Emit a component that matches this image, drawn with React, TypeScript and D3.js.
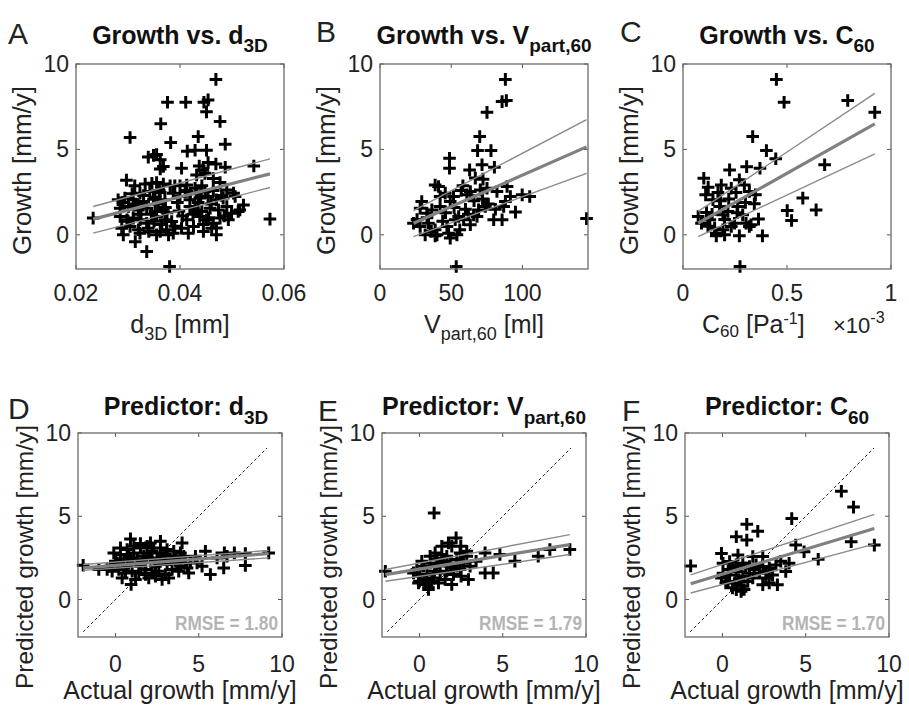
import React from "react";
import * as d3 from "d3";

type P = [number, number];

// ---------- DATA ----------
// Panel A: growth [mm/y] vs d3D [mm]
const ptsA: P[] = [
  [0.0469, 9.1], [0.0376, 7.76], [0.0411, 7.76], [0.0446, 7.76], [0.0454, 7.9], [0.0451, 7.2], [0.0477, 6.63],
  [0.0363, 6.5], [0.0304, 5.7], [0.0435, 5.75], [0.0382, 5.4], [0.0487, 5.3], [0.0414, 4.9], [0.0429, 4.95],
  [0.0451, 4.95], [0.0355, 4.7], [0.0339, 4.55], [0.0362, 4.4], [0.0349, 4.65], [0.0368, 4.0], [0.0362, 3.85],
  [0.0403, 3.9], [0.0437, 4.03], [0.0444, 3.8], [0.0454, 4.23], [0.0469, 4.15], [0.0487, 3.96], [0.0542, 4.03],
  [0.0432, 3.5], [0.0448, 3.6],
  [0.0297, 3.2], [0.0313, 2.87], [0.0333, 2.98], [0.0346, 3.02], [0.0355, 3.06], [0.0368, 2.98], [0.0381, 2.87],
  [0.039, 2.87], [0.04, 2.87], [0.0413, 2.92], [0.0429, 2.73], [0.0442, 2.87], [0.0464, 3.3], [0.0477, 3.06],
  [0.0323, 2.44], [0.0342, 2.54], [0.0362, 2.48], [0.0387, 2.44], [0.0413, 2.54], [0.0432, 2.44], [0.0448, 2.54],
  [0.0464, 2.59], [0.049, 2.63], [0.0503, 2.44],
  [0.0281, 2.05], [0.0294, 2.15], [0.031, 2.05], [0.033, 1.95], [0.0349, 2.09], [0.0371, 2.05], [0.04, 2.24],
  [0.0419, 2.05], [0.0438, 2.15], [0.0454, 2.24], [0.047, 2.05], [0.0483, 2.15], [0.0506, 2.24], [0.0522, 1.75],
  [0.0515, 1.46],
  [0.0285, 1.56], [0.0301, 1.66], [0.032, 1.46], [0.0336, 1.56], [0.0352, 1.37], [0.0368, 1.46], [0.0419, 1.66],
  [0.0429, 1.46], [0.0442, 1.37], [0.0458, 1.56], [0.0474, 1.46], [0.049, 1.66], [0.0499, 1.27], [0.0512, 1.37],
  [0.0233, 0.98], [0.0573, 0.92], [0.0285, 1.07], [0.0298, 0.88], [0.031, 0.98], [0.0323, 0.88], [0.0336, 0.68],
  [0.0355, 1.07], [0.0371, 0.88], [0.0384, 0.78], [0.0413, 0.88], [0.0438, 1.07], [0.0451, 0.88], [0.0464, 0.68],
  [0.0477, 0.98], [0.0493, 0.88],
  [0.0288, 0.39], [0.0304, 0.49], [0.032, 0.3], [0.0339, 0.39], [0.0362, 0.2], [0.0374, 0.3], [0.0387, 0.1],
  [0.0403, 0.39], [0.0426, 0.49], [0.0445, 0.2], [0.0461, 0.39], [0.047, 0.0], [0.0291, 0.0], [0.0323, 0.1],
  [0.0355, 0.0], [0.0378, 0.0],
  [0.0416, 0.1], [0.0314, -0.4], [0.0336, -0.98], [0.038, -1.85],
  [0.0315, 1.8], [0.033, 2.3], [0.0345, 1.2], [0.0358, 1.8], [0.0365, 0.6], [0.0375, 1.3], [0.0395, 1.9],
  [0.0405, 1.1], [0.042, 2.4], [0.0435, 1.9], [0.0445, 0.6], [0.0455, 1.0], [0.047, 0.4], [0.048, 2.3],
  [0.03, 0.8], [0.0325, 1.2], [0.034, 0.2], [0.035, 0.8], [0.036, 2.6], [0.039, 0.5], [0.041, 2.6],
  [0.0425, 1.2], [0.044, 2.2], [0.046, 1.8], [0.0485, 1.1], [0.029, 1.9], [0.0308, 2.4], [0.0352, 2.2],
  [0.0372, 1.6], [0.0398, 1.4],
];

// Panel B: growth vs V_part,60 [ml]
const ptsB: P[] = [
  [88.0, 9.1], [85.7, 7.8], [88.7, 7.86], [75.1, 7.17], [70.0, 5.75], [68.5, 4.93], [77.9, 4.93], [48.8, 4.48],
  [48.8, 3.9], [71.6, 4.1], [80.3, 3.96], [62.9, 3.8], [66.9, 3.32], [72.3, 3.26], [38.7, 2.92], [41.1, 2.83],
  [58.2, 2.87], [63.4, 2.54], [70.4, 2.63], [75.1, 2.73], [42.2, 2.24], [45.8, 2.44], [51.6, 2.24], [61.0, 2.34],
  [29.3, 1.95], [82.1, 2.54], [89.2, 2.83], [88.0, 1.95], [91.5, 2.24], [86.8, 1.66], [99.8, 2.34], [105.1, 2.24],
  [95.1, 1.33], [73.9, 1.66], [69.2, 1.46], [65.7, 1.17], [28.2, 1.56], [32.9, 1.27], [36.4, 1.46], [42.2, 1.66],
  [49.3, 1.95], [55.2, 1.07], [58.7, 0.88], [52.8, 0.88], [68.1, 1.07], [63.4, 0.59], [79.8, 0.88], [85.7, 0.88],
  [23.5, 0.68], [28.2, 0.49], [34.0, 0.68], [38.7, 0.3], [31.7, 0.0], [38.7, -0.06], [47.0, 0.49], [48.1, 0.1],
  [54.0, 0.0], [49.3, -0.19], [53.5, -1.85], [145, 0.95],
  [33, 1.0], [36, 0.2], [44, 0.8], [46, 1.3], [52, 1.6], [57, 2.6], [60, 1.5], [66, 2.0], [72, 2.1], [76, 1.8],
  [81, 1.5], [26, 0.9], [40, 0.0], [56, 0.3], [62, 1.2],
];

// Panel C: growth vs C60 [1e-3 Pa^-1]
const ptsC: P[] = [
  [0.449, 9.1], [0.486, 7.76], [0.792, 7.86], [0.922, 7.17], [0.335, 5.75], [0.401, 4.93], [0.446, 4.45],
  [0.681, 4.1], [0.224, 3.8], [0.306, 3.99], [0.37, 3.9], [0.1, 3.31], [0.121, 2.79], [0.109, 2.34], [0.184, 2.92],
  [0.232, 2.73], [0.271, 3.22], [0.295, 2.92], [0.255, 2.48], [0.319, 2.54], [0.348, 2.34], [0.343, 1.82],
  [0.363, 0.92], [0.382, -0.06], [0.576, 2.15], [0.64, 1.46], [0.501, 1.42], [0.522, 0.84], [0.073, 1.07],
  [0.113, 1.31], [0.129, 0.88], [0.089, 0.68], [0.176, 1.66], [0.192, 1.17], [0.216, 1.37], [0.263, 1.66],
  [0.287, 1.17], [0.248, 0.68], [0.303, 0.68], [0.319, 0.49], [0.152, 0.39], [0.192, 0.3], [0.16, -0.06],
  [0.2, 0.0], [0.271, -0.06], [0.232, 0.49], [0.327, 0.59], [0.274, -1.85], [0.144, 2.05], [0.168, 2.48],
  [0.14, 1.2], [0.18, 2.0], [0.22, 2.1], [0.26, 1.3], [0.2, 0.9], [0.12, 0.5], [0.3, 1.9], [0.16, 0.1],
];

// Panel D: predicted vs actual growth, predictor d3D
const ptsD: P[] = [
  [-1.94, 2.06], [0.9, 3.64], [0.94, 0.9], [4.0, 3.4], [5.4, 2.9], [4.8, 2.6], [4.5, 2.2], [5.7, 1.5], [6.5, 1.9],
  [6.54, 2.8], [7.14, 2.8], [7.8, 2.76], [7.8, 2.04], [9.2, 2.8], [-1.0, 1.8], [-0.5, 1.8],
  [-0.1, 2.8], [0.3, 3.1], [0.7, 3.0], [1.1, 3.2], [1.5, 3.1], [1.9, 3.2], [2.3, 3.1], [2.7, 3.1], [3.1, 3.0],
  [3.5, 2.9], [3.9, 2.8], [4.1, 2.6],
  [0.1, 2.2], [0.5, 2.4], [0.9, 2.5], [1.3, 2.4], [1.7, 2.6], [2.1, 2.5], [2.5, 2.4], [2.9, 2.6], [3.3, 2.4], [3.7, 2.2],
  [-0.2, 1.7], [0.2, 1.8], [0.6, 1.6], [1.0, 1.7], [1.4, 1.6], [1.8, 1.8], [2.2, 1.6], [2.6, 1.7], [3.0, 1.5],
  [3.4, 1.8], [3.8, 1.7], [4.3, 1.9],
  [0.4, 1.3], [1.2, 1.2], [2.0, 1.3], [2.8, 1.2], [3.2, 1.3], [1.5, 2.0], [2.4, 2.0], [0.7, 2.0], [3.1, 2.1],
  [3.9, 2.0], [1.9, 2.8], [2.7, 2.8], [1.1, 2.8], [0.3, 2.7], [3.5, 2.6], [2.7, 3.5], [2.1, 3.4], [1.5, 3.36],
  [4.9, 2.2], [5.2, 2.0], [6.1, 2.5], [6.7, 2.6],
  [0.0, 2.3], [0.5, 1.9], [1.0, 2.2], [1.6, 2.3], [2.2, 2.9], [2.6, 2.2], [3.0, 2.7], [3.6, 2.4], [4.2, 2.2],
  [0.8, 2.6], [1.8, 1.5], [2.4, 1.4], [-0.3, 2.0], [4.4, 1.6],
];

// Panel E: predicted vs actual growth, predictor V_part,60
const ptsE: P[] = [
  [-2.05, 1.7], [0.88, 5.2], [2.2, 3.7], [1.74, 3.4], [1.34, 3.2], [1.94, 3.2], [2.48, 3.2], [2.84, 2.9],
  [2.44, 2.8], [0.94, 2.8], [1.34, 2.7], [3.94, 2.8], [4.83, 2.7], [5.73, 2.3], [7.13, 2.6], [7.83, 3.0],
  [9.03, 3.0], [3.94, 1.6], [4.43, 1.6], [2.94, 1.2], [1.94, 0.9], [0.54, 0.7],
  [-0.16, 1.8], [0.24, 2.0], [0.64, 2.2], [1.04, 2.1], [1.44, 2.3], [1.84, 2.2], [2.24, 2.4], [2.64, 2.2],
  [3.04, 2.0], [0.04, 1.4], [0.44, 1.5], [0.84, 1.3], [1.24, 1.6], [1.64, 1.7], [2.04, 1.5], [2.44, 1.8],
  [-0.06, 1.0], [0.34, 0.9], [0.74, 1.1], [1.14, 1.0], [1.54, 1.2], [0.54, 0.6], [1.04, 2.4], [0.64, 2.6],
  [1.64, 2.6], [0.14, 2.3], [-0.36, 1.6], [2.84, 2.6], [2.24, 2.0],
  [0.3, 1.2], [0.9, 1.7], [1.9, 1.9], [2.5, 1.4], [0.0, 1.1], [1.2, 2.2], [3.4, 2.3],
];

// Panel F: predicted vs actual growth, predictor C60
const ptsF: P[] = [
  [-1.91, 2.02], [7.14, 6.5], [7.87, 5.55], [4.16, 4.86], [1.46, 4.52], [2.12, 4.1], [0.83, 3.77], [1.46, 3.57],
  [7.73, 3.47], [9.12, 3.27], [4.4, 3.27], [4.9, 2.87], [5.75, 2.42], [4.0, 2.18], [-0.06, 2.77], [0.93, 2.67],
  [1.82, 2.58], [2.42, 2.58], [3.8, 1.68], [3.3, 0.89], [2.42, 0.89], [2.81, 0.99],
  [0.03, 2.18], [0.43, 2.28], [0.83, 2.08], [1.22, 2.18], [1.62, 1.98], [2.02, 2.08], [2.42, 1.98], [2.81, 1.88],
  [3.21, 2.08], [0.03, 1.58], [0.43, 1.48], [0.83, 1.68], [1.22, 1.38], [1.62, 1.58], [2.22, 1.58], [2.61, 1.68],
  [3.01, 1.48], [0.33, 1.09], [0.73, 0.99], [1.12, 0.79], [1.52, 1.09], [0.83, 0.59], [1.12, 0.49], [1.82, 1.29],
  [2.61, 1.29], [-0.06, 1.29], [0.63, 1.98],
  [0.5, 1.8], [1.0, 1.2], [1.4, 1.9], [0.2, 1.0], [0.6, 0.7], [1.9, 1.8], [1.3, 0.6], [3.5, 2.3],
];

// Fitted lines (x endpoints, then centre / upper / lower y at those endpoints)
const fitAx = [0.0233, 0.0573], fitAmid = [0.92, 3.57], fitAhi = [1.66, 4.45], fitAlo = [0.1, 2.77];
const fitBx = [23.5, 145], fitBmid = [0.68, 5.15], fitBhi = [1.42, 6.75], fitBlo = [-0.1, 3.6];
const fitCx = [0.073, 0.922], fitCmid = [0.68, 6.49], fitChi = [1.37, 8.28], fitClo = [-0.1, 4.74];
const fitDx = [-1.94, 9.2], fitDmid = [1.9, 2.76], fitDhi = [2.1, 2.95], fitDlo = [1.75, 2.5];
const fitEx = [-2.05, 9.03], fitEmid = [1.5, 3.3], fitEhi = [1.8, 3.9], fitElo = [1.1, 2.7];
const fitFx = [-1.91, 9.12], fitFmid = [0.95, 4.26], fitFhi = [1.48, 5.11], fitFlo = [0.39, 3.33];
const identityX = [-1.94, 9.1];

const rmseLabels = ["RMSE = 1.80", "RMSE = 1.79", "RMSE = 1.70"];
const xTicksA = [0.02, 0.04, 0.06], xTickLabA = ["0.02", "0.04", "0.06"];
const xTicksB = [0, 50, 100], xTickLabB = ["0", "50", "100"];
const xTicksC = [0, 0.5, 1], xTickLabC = ["0", "0.5", "1"];
const xTicksRow2 = [0, 5, 10], xTickLabRow2 = ["0", "5", "10"];
const yTicks = [0, 5, 10], yTickLab = ["0", "5", "10"];

// ---------- LAYOUT ----------
const FONT = "'Liberation Sans', Arial, Helvetica, sans-serif";

type Box = { x0: number; x1: number; y0: number; y1: number };
type Fit = { x: number[]; mid: number[]; hi: number[]; lo: number[] };
type Cfg = {
  box: Box;
  xDomain: [number, number];
  yDomain: [number, number];
  xTicks: number[];
  xTickLab: string[];
  xTickY: number;
  pts: P[];
  fit: Fit;
  identity: boolean;
  rmse?: string;
};

const row1Y = { y0: 64, y1: 269 };
const row2Y = { y0: 433, y1: 637 };

const cfgs: Cfg[] = [
  { box: { x0: 76, x1: 284, ...row1Y }, xDomain: [0.02, 0.06], yDomain: [-2, 10], xTicks: xTicksA, xTickLab: xTickLabA, xTickY: 301, pts: ptsA, fit: { x: fitAx, mid: fitAmid, hi: fitAhi, lo: fitAlo }, identity: false },
  { box: { x0: 380, x1: 588, ...row1Y }, xDomain: [0, 146], yDomain: [-2, 10], xTicks: xTicksB, xTickLab: xTickLabB, xTickY: 301, pts: ptsB, fit: { x: fitBx, mid: fitBmid, hi: fitBhi, lo: fitBlo }, identity: false },
  { box: { x0: 683, x1: 891, ...row1Y }, xDomain: [0, 1], yDomain: [-2, 10], xTicks: xTicksC, xTickLab: xTickLabC, xTickY: 301, pts: ptsC, fit: { x: fitCx, mid: fitCmid, hi: fitChi, lo: fitClo }, identity: false },
  { box: { x0: 78, x1: 282, ...row2Y }, xDomain: [-2.25, 10], yDomain: [-2.25, 10], xTicks: xTicksRow2, xTickLab: xTickLabRow2, xTickY: 672, pts: ptsD, fit: { x: fitDx, mid: fitDmid, hi: fitDhi, lo: fitDlo }, identity: true, rmse: rmseLabels[0] },
  { box: { x0: 382, x1: 586, ...row2Y }, xDomain: [-2.25, 10], yDomain: [-2.25, 10], xTicks: xTicksRow2, xTickLab: xTickLabRow2, xTickY: 672, pts: ptsE, fit: { x: fitEx, mid: fitEmid, hi: fitEhi, lo: fitElo }, identity: true, rmse: rmseLabels[1] },
  { box: { x0: 685, x1: 889, ...row2Y }, xDomain: [-2.25, 10], yDomain: [-2.25, 10], xTicks: xTicksRow2, xTickLab: xTickLabRow2, xTickY: 672, pts: ptsF, fit: { x: fitFx, mid: fitFmid, hi: fitFhi, lo: fitFlo }, identity: true, rmse: rmseLabels[2] },
];

function Panel({ c }: { c: Cfg }) {
  const b = c.box;
  const xs = d3.scaleLinear().domain(c.xDomain).range([b.x0, b.x1]);
  const ys = d3.scaleLinear().domain(c.yDomain).range([b.y1, b.y0]);
  const line = d3.line<P>().x((d) => xs(d[0])).y((d) => ys(d[1]));
  const seg = (ysArr: number[]) => line(c.fit.x.map((x, i) => [x, ysArr[i]] as P)) || "";
  const crossPath = c.pts
    .map((p) => {
      const x = xs(p[0]);
      const y = ys(p[1]);
      return `M${x - 6.3},${y}H${x + 6.3}M${x},${y - 6.3}V${y + 6.3}`;
    })
    .join("");
  const tl = 4;
  return (
    <g>
      <rect x={b.x0} y={b.y0} width={b.x1 - b.x0} height={b.y1 - b.y0} fill="#fff" stroke="none" />
      {c.identity && (
        <path
          d={line(identityX.map((v) => [v, v] as P)) || ""}
          stroke="#222"
          strokeWidth={1}
          strokeDasharray="3,2.5"
          fill="none"
        />
      )}
      <path d={crossPath} stroke="#000" strokeWidth={3} fill="none" />
      <path d={seg(c.fit.hi)} stroke="#8a8a8a" strokeWidth={1.4} fill="none" />
      <path d={seg(c.fit.lo)} stroke="#8a8a8a" strokeWidth={1.4} fill="none" />
      <path d={seg(c.fit.mid)} stroke="#808080" strokeWidth={3.2} fill="none" />
      {c.xTicks.map((t, i) => (
        <g key={"xt" + i}>
          <line x1={xs(t)} x2={xs(t)} y1={b.y1} y2={b.y1 - tl} stroke="#555" />
          <line x1={xs(t)} x2={xs(t)} y1={b.y0} y2={b.y0 + tl} stroke="#555" />
          <text x={xs(t)} y={c.xTickY} textAnchor="middle" fontSize={23} fontFamily={FONT} fill="#222">
            {c.xTickLab[i]}
          </text>
        </g>
      ))}
      {yTicks.map((t, i) => (
        <g key={"yt" + i}>
          <line x1={b.x0} x2={b.x0 + tl} y1={ys(t)} y2={ys(t)} stroke="#555" />
          <line x1={b.x1} x2={b.x1 - tl} y1={ys(t)} y2={ys(t)} stroke="#555" />
          <text x={b.x0 - 7} y={ys(t) + 8} textAnchor="end" fontSize={23} fontFamily={FONT} fill="#222">
            {yTickLab[i]}
          </text>
        </g>
      ))}
      <rect x={b.x0} y={b.y0} width={b.x1 - b.x0} height={b.y1 - b.y0} fill="none" stroke="#6a6a6a" strokeWidth={1.3} />
      {c.rmse && (
        <text
          x={b.x1 - 4}
          y={b.y1 - 7}
          textAnchor="end"
          fontSize={20}
          fontWeight="bold"
          fontFamily={FONT}
          fill="#b4b4b4"
          textLength={103}
          lengthAdjust="spacingAndGlyphs"
        >
          {c.rmse}
        </text>
      )}
    </g>
  );
}

function YLabel({ x, y, text, size }: { x: number; y: number; text: string; size: number }) {
  return (
    <text transform={`translate(${x},${y}) rotate(-90)`} textAnchor="middle" fontSize={size} fontFamily={FONT} fill="#222">
      {text}
    </text>
  );
}

export default function App() {
  const cx = (i: number) => (cfgs[i].box.x0 + cfgs[i].box.x1) / 2;
  const cy1 = (row1Y.y0 + row1Y.y1) / 2 + 4;
  const cy2 = 557;
  const titleProps = { textAnchor: "middle" as const, fontSize: 25, fontWeight: "bold", fontFamily: FONT, fill: "#111" };
  const labProps = { fontSize: 25, fontFamily: FONT, fill: "#222" };
  const letterProps = { fontSize: 30, fontFamily: FONT, fill: "#222" };
  return (
    <svg width={909} height={708} style={{ position: "absolute", left: 0, top: 0, background: "#fff" }}>
      <rect width={909} height={708} fill="#fff" />
      {cfgs.map((c, i) => (
        <Panel key={i} c={c} />
      ))}
      <text x={8} y={44} {...letterProps}>A</text>
      <text x={316} y={42} {...letterProps}>B</text>
      <text x={620} y={42} {...letterProps}>C</text>
      <text x={8} y={419} {...letterProps}>D</text>
      <text x={318} y={421} {...letterProps}>E</text>
      <text x={622} y={421} {...letterProps}>F</text>

      <text x={cx(0)} y={44} {...titleProps}>
        Growth vs. d<tspan dy={8} fontSize={19}>3D</tspan>
      </text>
      <text x={cx(1)} y={44} {...titleProps}>
        Growth vs. V<tspan dy={8} fontSize={19}>part,60</tspan>
      </text>
      <text x={cx(2)} y={44} {...titleProps}>
        Growth vs. C<tspan dy={8} fontSize={19}>60</tspan>
      </text>
      <text x={cx(3) + 6} y={415} {...titleProps}>
        Predictor: d<tspan dy={9} fontSize={19}>3D</tspan>
      </text>
      <text x={cx(4)} y={415} {...titleProps}>
        Predictor: V<tspan dy={9} fontSize={19}>part,60</tspan>
      </text>
      <text x={cx(5)} y={415} {...titleProps}>
        Predictor: C<tspan dy={9} fontSize={19}>60</tspan>
      </text>

      <text x={cx(0)} y={333} textAnchor="middle" {...labProps}>
        d<tspan dy={7} fontSize={18}>3D</tspan>
        <tspan dy={-7}> [mm]</tspan>
      </text>
      <text x={cx(1)} y={333} textAnchor="middle" {...labProps}>
        V<tspan dy={7} fontSize={18}>part,60</tspan>
        <tspan dy={-7}> [ml]</tspan>
      </text>
      <text x={702} y={333} {...labProps}>
        C<tspan dy={4} fontSize={17}>60</tspan>
        <tspan dy={-4}> [Pa</tspan>
        <tspan dy={-9} fontSize={16}>-1</tspan>
        <tspan dy={9}>]</tspan>
      </text>
      <text x={833} y={333} {...labProps} fontSize={22}>
        ×10<tspan dy={-10} fontSize={16}>-3</tspan>
      </text>

      {[3, 4, 5].map((i) => (
        <text key={"xl" + i} x={cx(i)} y={699} textAnchor="middle" {...labProps}>
          Actual growth [mm/y]
        </text>
      ))}

      <YLabel x={cfgs[0].box.x0 - 45} y={cy1} size={26} text="Growth [mm/y]" />
      <YLabel x={cfgs[1].box.x0 - 45} y={cy1} size={26} text="Growth [mm/y]" />
      <YLabel x={cfgs[2].box.x0 - 45} y={cy1} size={26} text="Growth [mm/y]" />
      <YLabel x={cfgs[3].box.x0 - 45} y={cy2} size={24.5} text="Predicted growth [mm/y]" />
      <YLabel x={cfgs[4].box.x0 - 45} y={cy2} size={24.5} text="Predicted growth [mm/y]" />
      <YLabel x={cfgs[5].box.x0 - 45} y={cy2} size={24.5} text="Predicted growth [mm/y]" />
    </svg>
  );
}
